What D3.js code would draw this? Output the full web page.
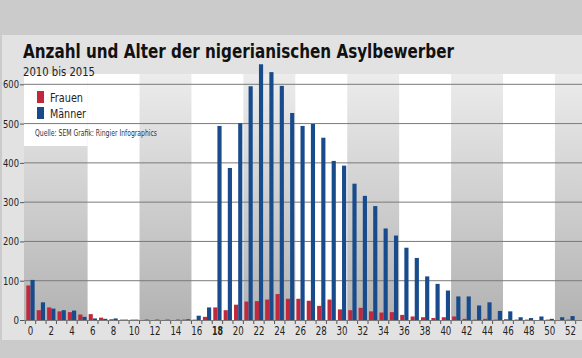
<!DOCTYPE html>
<html><head><meta charset="utf-8">
<script src="https://cdn.jsdelivr.net/npm/d3@7"></script>
<style>html,body{margin:0;padding:0;background:#cbcbcb;}svg{display:block;}</style>
</head><body>
<svg id="c" width="582" height="358"></svg>
<script>
const ages = d3.range(0, 53);
const frauen = [88,25,32,22,20,14,15,6,2,1,1,0,0,0,0,1,1,8,32,25,39,47,48,52,66,54,54,49,36,52,27,25,31,22,19,20,13,9,7,5,7,9,3,1,3,1,2,1,1,0,1,0,1];
const maenner = [102,45,29,25,24,8,4,3,4,1,1,1,1,1,1,2,11,32,494,387,501,595,651,631,596,527,494,499,464,405,393,347,316,290,233,215,184,158,111,92,75,60,60,37,45,23,22,7,5,9,3,7,10];
const yTicks = [0,100,200,300,400,500,600];
const xLabels = d3.range(0, 53, 2);
const bandStarts = [0,10,20,30,40,50]; // shaded groups: ages d+1 .. d+5
const seriesNames = ["Frauen","Männer"];
const colors = {"Frauen":"#c1283b","Männer":"#174b8b"};

const svg = d3.select("#c");
const defs = svg.append("defs");
const g1 = defs.append("linearGradient").attr("id","bandg").attr("x1",0).attr("y1",0).attr("x2",0).attr("y2",1);
g1.append("stop").attr("offset","0%").attr("stop-color","#ececec");
g1.append("stop").attr("offset","100%").attr("stop-color","#b3b3b3");

// panel
svg.append("rect").attr("x",2).attr("y",35).attr("width",580).attr("height",305).attr("fill","#e2e2e2");

const plotL = 24, plotR = 582, plotT = 74, plotB = 320;
const x = d3.scaleBand().domain(ages).range([25.3, 575.7]).paddingInner(0.2).paddingOuter(0.1);
const step = x.step();
const xs = d3.scaleBand().domain(seriesNames).range([0, x.bandwidth()]);
const y = d3.scaleLinear().domain([0,600]).range([plotB, 84.3]);
const cx = a => x(0) + x.bandwidth()/2 + a*step;

svg.append("rect").attr("x",plotL).attr("y",plotT).attr("width",plotR-plotL).attr("height",plotB-plotT).attr("fill","#ffffff");

// shaded bands
svg.append("g").selectAll("rect").data(bandStarts).join("rect")
  .attr("x", d => d===0 ? plotL : cx(d+0.5))
  .attr("width", d => Math.min(plotR, cx(d+5.5)) - (d===0 ? plotL : cx(d+0.5)))
  .attr("y", plotT).attr("height", plotB-plotT).attr("fill","url(#bandg)");

// legend background
svg.append("rect").attr("x",plotL).attr("y",plotT).attr("width",cx(5.5)-plotL).attr("height",72).attr("fill","#ffffff");

// gridlines
svg.append("g").selectAll("line").data(yTicks.filter(t=>t>0)).join("line")
  .attr("x1",plotL).attr("x2",plotR).attr("y1",d=>y(d)).attr("y2",d=>y(d))
  .attr("stroke","#7a7a7a").attr("stroke-width",1);

// bars
const rows = ages.map((a,i)=>({age:a, Frauen:frauen[i], "Männer":maenner[i]}));
svg.append("g").selectAll("g").data(rows).join("g")
  .attr("transform", d=>`translate(${x(d.age)},0)`)
  .selectAll("rect").data(d=>seriesNames.map(k=>({k, v:d[k]}))).join("rect")
  .attr("x", d=>xs(d.k)).attr("width", xs.bandwidth())
  .attr("y", d=>y(d.v)).attr("height", d=>y(0)-y(d.v))
  .attr("fill", d=>colors[d.k]);

// y axis
const ya = svg.append("g").attr("transform",`translate(${plotL},0)`)
  .call(d3.axisLeft(y).tickValues(yTicks).tickSize(4).tickPadding(1));
ya.select(".domain").remove();
ya.selectAll("line").attr("stroke","#555");
ya.selectAll("text").attr("font-family","DejaVu Sans Condensed, sans-serif").attr("font-size",11).attr("fill","#222")
  .attr("textLength", d => d===0 ? 5.5 : 16).attr("lengthAdjust","spacingAndGlyphs");

// x axis
const tickPos = d3.range(-1, 53).map(a => cx(a) + step/2).filter(p=>p>=plotL);
svg.append("g").selectAll("line").data(tickPos).join("line")
  .attr("x1",d=>d).attr("x2",d=>d).attr("y1",plotB).attr("y2",plotB+4)
  .attr("stroke","#555").attr("stroke-width",1);
svg.append("line").attr("x1",plotL).attr("x2",plotR).attr("y1",plotB+0.5).attr("y2",plotB+0.5).attr("stroke","#777");
svg.append("g").selectAll("text").data(xLabels).join("text")
  .attr("x", d=>cx(d)).attr("y", 335).attr("text-anchor","middle")
  .attr("font-family","DejaVu Sans Condensed, sans-serif").attr("font-size",11.5)
  .attr("font-weight", d=>d===18?"bold":"normal").attr("fill","#222")
  .attr("textLength", d => d<10 ? 5.5 : 11).attr("lengthAdjust","spacingAndGlyphs")
  .text(d=>d);

// titles
svg.append("text").attr("x",23).attr("y",57.5)
  .attr("font-family","DejaVu Sans Condensed, DejaVu Sans, sans-serif").attr("font-weight","bold").attr("font-size",19)
  .attr("textLength",431).attr("lengthAdjust","spacingAndGlyphs").attr("fill","#111")
  .text("Anzahl und Alter der nigerianischen Asylbewerber");
svg.append("text").attr("x",23).attr("y",76)
  .attr("font-family","DejaVu Sans Condensed, sans-serif").attr("font-size",12.5)
  .attr("textLength",72).attr("lengthAdjust","spacingAndGlyphs").attr("fill","#222")
  .text("2010 bis 2015");

// legend
const lg = svg.append("g");
seriesNames.forEach((n,i)=>{
  lg.append("rect").attr("x",37).attr("y",91+i*16).attr("width",7).attr("height",12).attr("fill",colors[n]);
  lg.append("text").attr("x",50).attr("y",102+i*15.5)
    .attr("font-family","DejaVu Sans Condensed, sans-serif").attr("font-size",13).attr("fill","#222")
    .attr("textLength", i===0 ? 33 : 36).attr("lengthAdjust","spacingAndGlyphs").text(n);
});
lg.append("text").attr("x",35).attr("y",136)
  .attr("font-family","DejaVu Sans Condensed, sans-serif").attr("font-size",9.5)
  .attr("textLength",122).attr("lengthAdjust","spacingAndGlyphs").attr("fill","#333")
  .text("Quelle: SEM  Grafik: Ringier Infographics");
</script>
</body></html>
